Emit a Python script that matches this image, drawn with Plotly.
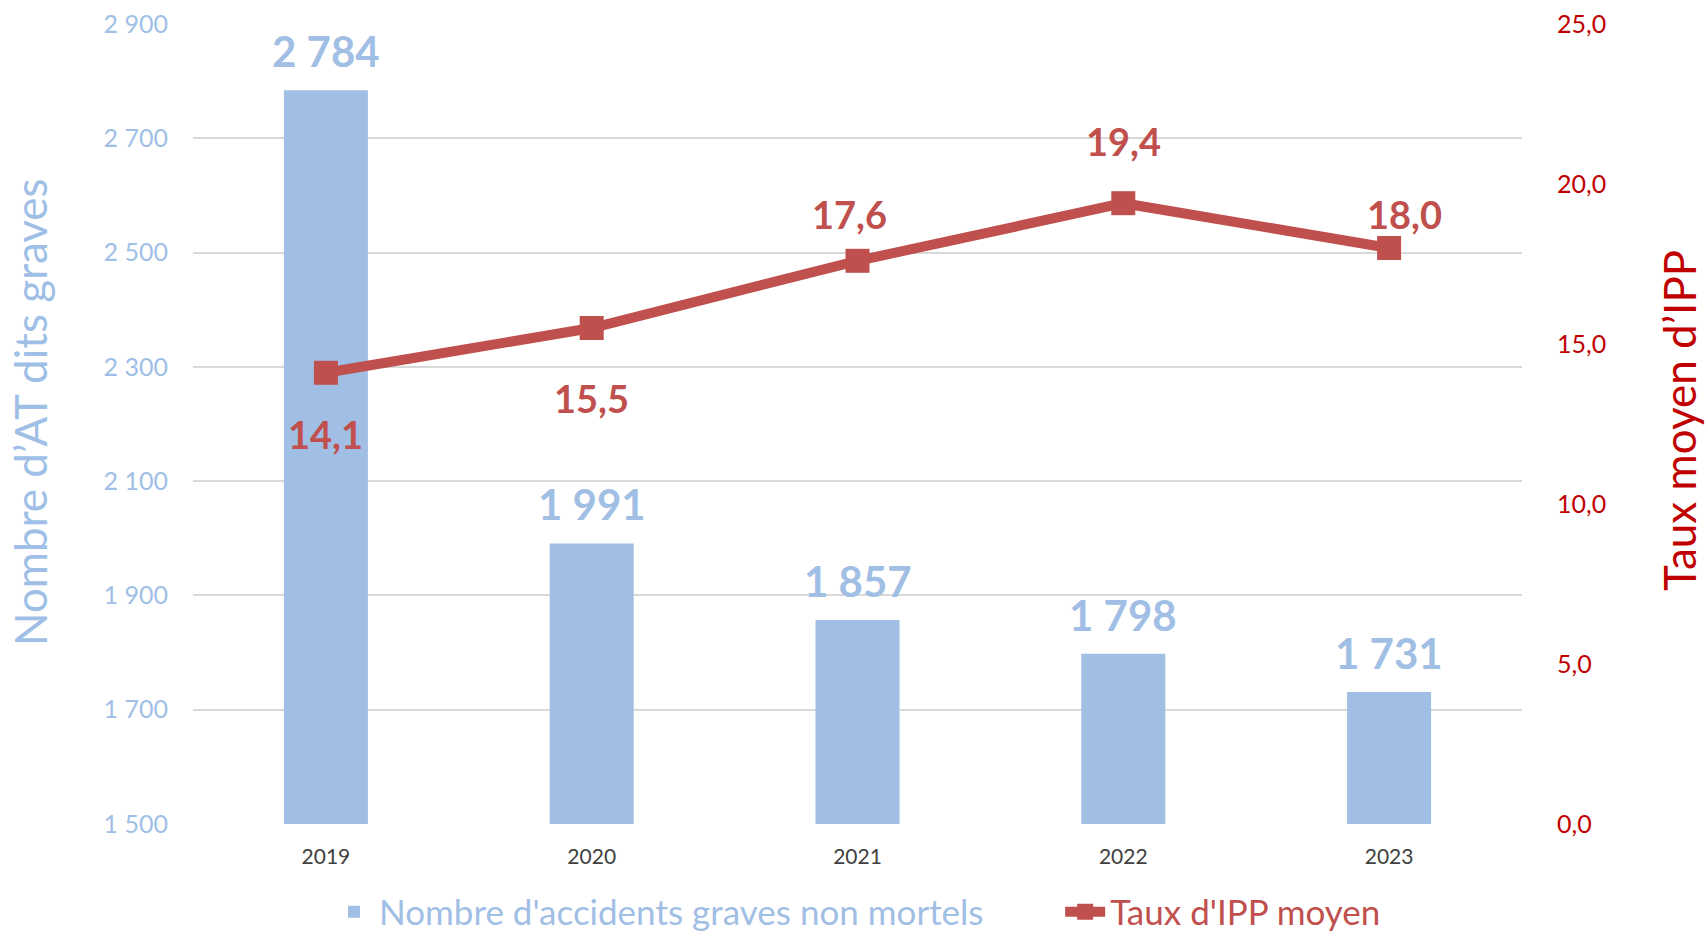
import plotly.graph_objects as go

# ---- data ----
years = ["2019", "2020", "2021", "2022", "2023"]
nb_accidents = [2784, 1991, 1857, 1798, 1731]
taux_ipp = [14.1, 15.5, 17.6, 19.4, 18.0]

left_tickvals = [1500, 1700, 1900, 2100, 2300, 2500, 2700, 2900]
left_ticktext = ["1 500", "1 700", "1 900", "2 100", "2 300", "2 500", "2 700", "2 900"]
right_tickvals = [0, 5, 10, 15, 20, 25]
right_ticktext = ["0,0", "5,0", "10,0", "15,0", "20,0", "25,0"]

bar_name = "Nombre d'accidents graves non mortels"
line_name = "Taux d'IPP moyen"
left_title = "Nombre d’AT dits graves"
right_title = "Taux moyen d’IPP"

# ---- style ----
FONT = "Lato, 'Open Sans', sans-serif"
BAR_COLOR = "#A1BEE4"
LINE_COLOR = "#C0504D"
RIGHT_AXIS_COLOR = "#C00000"
LEFT_AXIS_COLOR = "#9FBFE6"
GRID = "#D9D9D9"
line_label_yshift = [-61, -70, 47, 62, 34]
line_label_xshift = [0, 0, -8, 0, 15]
legend_pad = "\u00a0" * 8

fig = go.Figure()
fig.add_trace(go.Bar(
    x=years, y=nb_accidents,
    name=f"<span style='color:{BAR_COLOR}'>{bar_name}{legend_pad}</span>",
    marker=dict(color=BAR_COLOR, line=dict(width=0)), width=0.316, yaxis="y",
))
fig.add_trace(go.Scatter(
    x=years, y=taux_ipp, name=f"<span style='color:{LINE_COLOR}'>{line_name}</span>",
    mode="lines+markers", line=dict(color=LINE_COLOR, width=10),
    marker=dict(symbol="square", size=24, color=LINE_COLOR), yaxis="y2",
))

annotations = []
for i, v in enumerate(nb_accidents):
    annotations.append(dict(
        x=i, y=v, xref="x", yref="y", text=f"{v:,}".replace(",", " "),
        showarrow=False, yanchor="middle", yshift=39,
        font=dict(family=FONT, size=42, color=BAR_COLOR, weight="bold"),
    ))
for i, (v, ys, xs) in enumerate(zip(taux_ipp, line_label_yshift, line_label_xshift)):
    annotations.append(dict(
        x=i, y=v, xref="x", yref="y2", text=f"{v:.1f}".replace(".", ","),
        showarrow=False, yanchor="middle", yshift=ys, xshift=xs,
        font=dict(family=FONT, size=38, color=LINE_COLOR, weight="bold"),
    ))
annotations.append(dict(
    x=0, y=0.5, xref="paper", yref="paper", text=left_title, textangle=-90,
    showarrow=False, xanchor="center", yanchor="middle", xshift=-163, yshift=12,
    font=dict(family=FONT, size=44, color=LEFT_AXIS_COLOR),
))
annotations.append(dict(
    x=1, y=0.5, xref="paper", yref="paper", text=right_title, textangle=-90,
    showarrow=False, xanchor="center", yanchor="middle", xshift=157, yshift=3,
    font=dict(family=FONT, size=44, color=RIGHT_AXIS_COLOR),
))

fig.update_layout(
    width=1708, height=933,
    margin=dict(l=193, r=186, t=24, b=109, pad=0, autoexpand=False),
    paper_bgcolor="white", plot_bgcolor="white",
    font=dict(family=FONT),
    showlegend=True,
    legend=dict(
        orientation="h", xref="paper", x=0.5, xanchor="center",
        yref="container", y=21 / 933, yanchor="middle",
        font=dict(family=FONT, size=35), itemwidth=40, traceorder="normal",
    ),
    xaxis=dict(
        type="category", range=[-0.5, 4.5], showgrid=False, showline=False, zeroline=False,
        tickfont=dict(family=FONT, size=21, color="#404040"), ticks="",
        ticklabelstandoff=18, automargin=False,
    ),
    yaxis=dict(
        range=[1500, 2900], tickvals=left_tickvals, ticktext=left_ticktext,
        showgrid=True, gridcolor=GRID, gridwidth=2, zeroline=False, showline=False,
        tickfont=dict(family=FONT, size=25, color=LEFT_AXIS_COLOR), ticks="",
        ticklabelstandoff=24, automargin=False,
    ),
    yaxis2=dict(
        range=[0, 25], tickvals=right_tickvals, ticktext=right_ticktext,
        overlaying="y", side="right", showgrid=False, zeroline=False, showline=False,
        tickfont=dict(family=FONT, size=25, color=RIGHT_AXIS_COLOR), ticks="",
        ticklabelstandoff=34, automargin=False,
    ),
    annotations=annotations,
)

fig.write_html(
    "out.html",
    config={"displayModeBar": False},
    post_script="document.body.style.margin='0';document.body.style.overflow='hidden';",
)
